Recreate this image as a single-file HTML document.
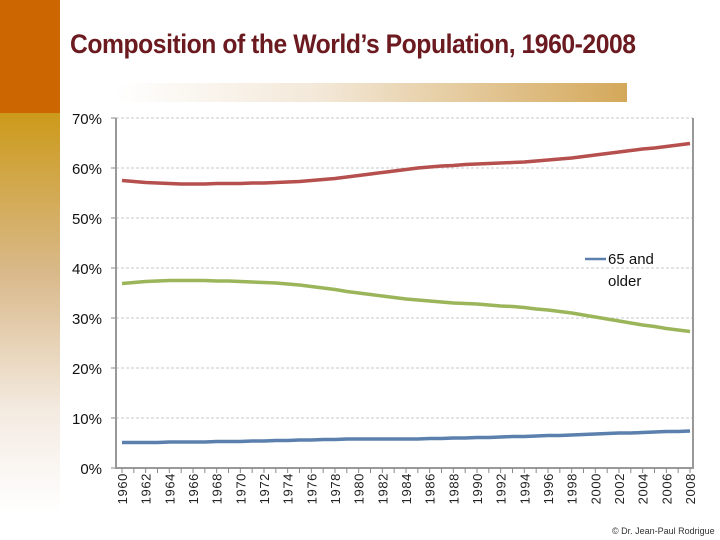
<!DOCTYPE html>
<html><head><meta charset="utf-8"><style>
body{margin:0;width:720px;height:540px;overflow:hidden;background:#fff;font-family:"Liberation Sans",sans-serif;position:relative}
</style></head><body>
<div style="position:absolute;left:0;top:0;width:60px;height:113px;background:#cc6600"></div>
<div style="position:absolute;left:0;top:113px;width:60px;height:400px;background:linear-gradient(#cc9a1a,#d9b98a 40%,#f4ebe2 75%,#fff)"></div>
<div style="position:absolute;left:70px;top:29px;font-family:'Liberation Sans Narrow','Liberation Sans',sans-serif;font-weight:bold;font-size:27px;color:#6b1a1f;letter-spacing:-0.5px;transform:scaleX(0.915);transform-origin:left;white-space:nowrap">Composition of the World’s Population, 1960-2008</div>
<div style="position:absolute;left:115px;top:83px;width:512px;height:19px;background:linear-gradient(90deg,#fff,#f3e8d8 40%,#d4a85a)"></div>
<svg id="chart" width="720" height="540" style="position:absolute;left:0;top:0"></svg>
<div style="position:absolute;left:612px;top:526px;font-size:9px;color:#333;white-space:nowrap">© Dr. Jean-Paul Rodrigue</div>
<script>
const years=[];for(let y=1960;y<=2008;y++)years.push(y);
const age15to64=[57.5,57.3,57.1,57.0,56.9,56.8,56.8,56.8,56.9,56.9,56.9,57.0,57.0,57.1,57.2,57.3,57.5,57.7,57.9,58.2,58.5,58.8,59.1,59.4,59.7,60.0,60.2,60.4,60.5,60.7,60.8,60.9,61.0,61.1,61.2,61.4,61.6,61.8,62.0,62.3,62.6,62.9,63.2,63.5,63.8,64.0,64.3,64.6,64.9];
const age0to14=[36.9,37.1,37.3,37.4,37.5,37.5,37.5,37.5,37.4,37.4,37.3,37.2,37.1,37.0,36.8,36.6,36.3,36.0,35.7,35.3,35.0,34.7,34.4,34.1,33.8,33.6,33.4,33.2,33.0,32.9,32.8,32.6,32.4,32.3,32.1,31.8,31.6,31.3,31.0,30.6,30.2,29.8,29.4,29.0,28.6,28.3,27.9,27.6,27.3];
const age65plus=[5.1,5.1,5.1,5.1,5.2,5.2,5.2,5.2,5.3,5.3,5.3,5.4,5.4,5.5,5.5,5.6,5.6,5.7,5.7,5.8,5.8,5.8,5.8,5.8,5.8,5.8,5.9,5.9,6.0,6.0,6.1,6.1,6.2,6.3,6.3,6.4,6.5,6.5,6.6,6.7,6.8,6.9,7.0,7.0,7.1,7.2,7.3,7.3,7.4];
const yTicks=[0,10,20,30,40,50,60,70];
const NS="http://www.w3.org/2000/svg",svg=document.getElementById('chart');
const L=116,R=693,T=118,B=468;
const xs=i=>122+i*(690-122)/(years.length-1);
const ys=v=>B-(v/70)*(B-T);
function mk(tag,a){const e=document.createElementNS(NS,tag);for(const k in a)e.setAttribute(k,a[k]);svg.appendChild(e);return e;}
yTicks.forEach(v=>{
 if(v>0){const g=mk('line',{x1:L,x2:R,y1:ys(v),y2:ys(v),stroke:'#c8c8c8','stroke-dasharray':'3,2'});
 }
 const t=mk('line',{x1:L-5,x2:L,y1:ys(v),y2:ys(v),stroke:'#888'});
 
 const tx=mk('text',{x:L-14,y:ys(v)+6,'text-anchor':'end','font-size':15,fill:'#111','font-family':'Liberation Sans'});
 tx.textContent=v+'%';
 
});
const ax=mk('path',{d:`M${L},${T} V${B} H${R} V${T}`,fill:'none',stroke:'#999','stroke-width':2});

years.forEach((y,i)=>{
 const t=mk('line',{x1:xs(i),x2:xs(i),y1:B,y2:B+5,stroke:'#888'});
 
 if(i%2===0){const tx=mk('text',{transform:`translate(${xs(i)+5},${B+5}) rotate(-90)`,'text-anchor':'end','font-size':13,fill:'#222','letter-spacing':'0.6'});
 tx.textContent=y;
 }
});
function line(arr,col,name){
 const p=mk('polyline',{points:arr.map((v,i)=>xs(i)+','+ys(v)).join(' '),fill:'none',stroke:col,'stroke-width':3.5,'stroke-linejoin':'round'});
 
}
line(age15to64,'#b5504e','series-15-64');
line(age0to14,'#9bb55a','series-0-14');
line(age65plus,'#5b80ad','series-65-older');
const ll=mk('line',{x1:585,x2:606,y1:259,y2:259,stroke:'#5b80ad','stroke-width':2.5});

const l1=mk('text',{x:608,y:264,'font-size':15,fill:'#111'});l1.textContent='65 and';

const l2=mk('text',{x:608,y:286,'font-size':15,fill:'#111'});l2.textContent='older';

</script>
</body></html>
